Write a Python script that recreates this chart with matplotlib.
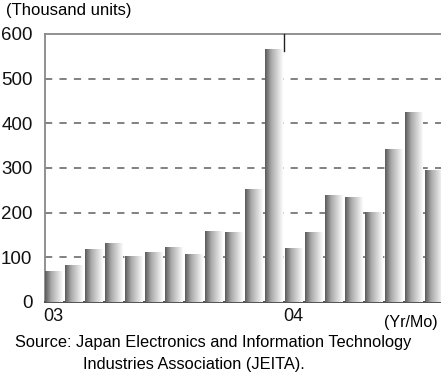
import numpy as np
import matplotlib.pyplot as plt
from matplotlib.colors import LinearSegmentedColormap
from matplotlib.patches import Rectangle

plt.rcParams['font.family'] = ['Liberation Sans', 'DejaVu Sans']

# monthly shipments, Jan 2003 .. Aug 2004 (thousand units)
months = ['03/01', '03/02', '03/03', '03/04', '03/05', '03/06', '03/07', '03/08',
          '03/09', '03/10', '03/11', '03/12', '04/01', '04/02', '04/03', '04/04',
          '04/05', '04/06', '04/07', '04/08']
values = [68, 82, 118, 130, 102, 110, 122, 106, 158, 156, 252, 565,
          120, 155, 238, 235, 200, 342, 425, 295]
year_labels = ['03', '04']
year_pos = [0, 12]
yticks = [0, 100, 200, 300, 400, 500, 600]

W, H = 441, 374
fig = plt.figure(figsize=(W / 100, H / 100), dpi=100)
ax = fig.add_axes([45 / W, (H - 302) / H, 401 / W, 268 / H])

x = np.arange(len(values))
width = 0.85

cmap = LinearSegmentedColormap.from_list(
    'bar', [(0, '#5a5a5a'), (0.35, '#aaaaaa'), (1, '#fbfbfb')])
grad = np.linspace(0, 1, 64).reshape(1, -1)

for xi, v in zip(x, values):
    left = xi - width / 2
    # white underlay hides the gridlines behind the bar
    ax.add_patch(Rectangle((left, 0), width, v, facecolor='white',
                           edgecolor='none', zorder=2))
    ax.imshow(grad, cmap=cmap, aspect='auto', extent=(left, left + width, 0, v),
              zorder=3, interpolation='bilinear')

for yv in yticks[1:-1]:
    ax.axhline(yv, color='#777777', lw=1.3, dashes=(4, 4), zorder=1)

ax.set_xlim(-0.425, len(values) - 0.4)
ax.set_ylim(0, 600)

ax.set_yticks(yticks)
ax.set_yticklabels([str(t) for t in yticks], fontsize=13.5)
ax.tick_params(axis='y', length=0, pad=9, colors='#111111')
ax.set_xticks(year_pos)
ax.set_xticklabels(year_labels, fontsize=13)
ax.tick_params(axis='x', length=0, pad=4, colors='#111111')

for s in ['left', 'top']:
    ax.spines[s].set_color('#888888')
    ax.spines[s].set_linewidth(1.3)
ax.spines['bottom'].set_color('#333333')
ax.spines['bottom'].set_linewidth(1.2)
ax.spines['right'].set_visible(False)

# year separator at the top
ax.plot([11.5, 11.5], [600, 563], color='#222222', lw=1.0, zorder=4, clip_on=False)

fig.text(6 / W, 1 - 11 / H, '(Thousand units)', fontsize=12, va='center', ha='left')
fig.text(438 / W, 1 - 322 / H, '(Yr/Mo)', fontsize=11.5, va='center', ha='right')
fig.text(15 / W, 1 - 343 / H, 'Source: Japan Electronics and Information Technology',
         fontsize=11.8, va='center', ha='left')
fig.text(83 / W, 1 - 365 / H, 'Industries Association (JEITA).',
         fontsize=11.8, va='center', ha='left')

fig.savefig('out.png', dpi=100)
